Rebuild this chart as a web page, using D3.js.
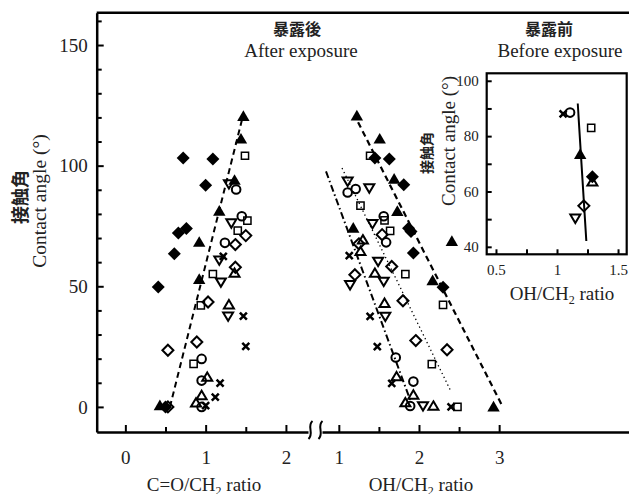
<!DOCTYPE html>
<html>
<head>
<meta charset="utf-8">
<script src="https://cdn.jsdelivr.net/npm/d3@7"></script>
<style>
    body { margin: 0; background: #fff; }
    svg { display: block; }
</style>
</head>
<body>
<svg id="chart" width="629" height="494"></svg>
<script>
// ---- data: [ratio, contact angle] per marker type ----
// after exposure, C=O/CH2 ratio
const fdiaCO = [[0.72, 103.2], [1.09, 102.8], [1.0, 91.9], [0.66, 72.1], [0.76, 73.9], [0.61, 63.5], [0.41, 49.7], [0.5, 0]];
const ftriCO = [[1.47, 120.4], [1.44, 111], [1.36, 93.9], [1.17, 81.1], [0.92, 68.2], [0.92, 52.8], [0.43, 0.5]];
const osqCO = [[1.49, 104.1], [1.52, 77.2], [1.4, 73.1], [1.09, 55.1], [0.94, 42.1], [0.85, 17.8]];
const ocirCO = [[1.38, 90.1], [1.45, 79], [1.24, 68], [0.95, 19.9], [0.95, 10.9], [0.95, 0]];
const otdCO = [[1.29, 92.4], [1.32, 76.2], [1.17, 60.8], [1.19, 51.7], [1.28, 37.6]];
const otuCO = [[1.36, 55.5], [1.29, 42.4], [1.02, 12.4], [0.95, 4.8], [0.88, 1.7]];
const odiaCO = [[1.5, 71], [1.37, 67.3], [1.37, 57.9], [1.03, 43.5], [0.89, 26.9], [0.53, 23.5], [0.53, 0]];
const crossCO = [[1.22, 62.4], [1.47, 37.6], [1.5, 25.1], [1.18, 9.9], [1.12, 4.1], [1.0, 0.5]];

// after exposure, OH/CH2 ratio
const fdiaOH = [[1.45, 103.2], [1.63, 102.8], [1.81, 92.1], [1.87, 74.1], [1.9, 72.7], [1.93, 63.8], [2.3, 49.6]];
const ftriOH = [[1.225, 120.6], [1.51, 111], [1.69, 94.4], [1.73, 81], [1.18, 74.1], [2.41, 68.6], [2.17, 52.3], [2.93, 0]];
const osqOH = [[1.39, 104.1], [1.27, 83.4], [1.57, 77.3], [1.64, 73], [1.83, 55], [2.3, 42.3], [2.16, 17.7], [2.48, 0]];
const ocirOH = [[1.21, 90.3], [1.11, 88.9], [1.56, 79], [1.59, 68.2], [1.71, 20.5], [1.93, 10.5], [1.89, 0.4]];
const otdOH = [[1.11, 93.5], [1.38, 90.7], [1.42, 75.9], [1.49, 60.3], [1.56, 52], [1.14, 50.6], [1.58, 37.5], [2.05, 0.4]];
const otuOH = [[1.3, 69.3], [1.27, 64.5], [1.45, 55.5], [1.57, 43], [1.72, 12.6], [1.93, 5], [1.83, 1.8], [2.18, 0.4]];
const odiaOH = [[1.54, 71.4], [1.25, 67.6], [1.66, 58.2], [1.2, 54.8], [1.8, 44], [1.96, 27.5], [2.35, 23.7]];
const crossOH = [[1.13, 62.7], [1.39, 37.5], [1.48, 25], [1.66, 9.8], [2.4, 0]];

// before exposure, OH/CH2 ratio (inset)
const fdiaBefore = [[1.29, 65.3]];
const ftriBefore = [[1.19, 73.4]];
const osqBefore = [[1.28, 83]];
const ocirBefore = [[1.107, 88.5]];
const otdBefore = [[1.15, 50.3]];
const otuBefore = [[1.29, 63.5]];
const odiaBefore = [[1.22, 54.8]];
const crossBefore = [[1.05, 88]];

// fitted trend lines (end points)
const trendCO = [[0.555, 0], [1.46, 120]];
const trendOHupper = [[1.24, 118], [3.03, 1]];
const trendOHdotted = [[1.04, 99], [2.39, 7]];
const trendOHlower = [[0.84, 97.6], [1.9, 2]];
const trendBefore = [[1.17, 91.8], [1.24, 42.1]];

const yTicks = [0, 50, 100, 150];
const xTicksCO = [0, 1, 2];
const xTicksOH = [1, 2, 3];
const yTicksInset = [40, 60, 80, 100];
const xTicksInset = [0.5, 1, 1.5];

// ---- setup ----
const svg = d3.select("#chart");
const serif = "'Liberation Serif', 'Times New Roman', serif";
const cjk = "'Noto Sans CJK JP', 'Noto Sans CJK SC', sans-serif";
const textColor = "#222";

const y = d3.scaleLinear().domain([-10.4, 163.4]).range([432, 12.7]);
const xCO = d3.scaleLinear().domain([-0.357, 2.275]).range([96.7, 308]);
const xOH = d3.scaleLinear().domain([0.79, 4.62]).range([322, 629]);

const xIn = d3.scaleLinear().domain([0.424, 1.571]).range([486.7, 626.7]);
const yIn = d3.scaleLinear().domain([37.3, 102.7]).range([254.3, 73.3]);

const circ = "M4.3,0A4.3,4.3 0 1,1 -4.3,0A4.3,4.3 0 1,1 4.3,0Z";
const shapes = {
    fdia: { d: "M0,-6.5L6.5,0L0,6.5L-6.5,0Z", fill: "#000", sw: 0 },
    ftri: { d: "M0,-6.2L6.2,4.5L-6.2,4.5Z", fill: "#000", sw: 0 },
    osq: { d: "M-3.6,-3.6h7.2v7.2h-7.2Z", fill: "none", sw: 1.5 },
    ocir: { d: circ, fill: "none", sw: 2 },
    otd: { d: "M-5,-3.8L5,-3.8L0,4.6Z", fill: "none", sw: 2 },
    otu: { d: "M0,-4.6L5,3.8L-5,3.8Z", fill: "none", sw: 2 },
    odia: { d: "M0,-5.5L5.5,0L0,5.5L-5.5,0Z", fill: "none", sw: 2 },
    cross: { d: "M-3.5,-3.5L3.5,3.5M-3.5,3.5L3.5,-3.5", fill: "none", sw: 2.5 }
};

const series = [
    { shape: "odia", co: odiaCO, oh: odiaOH, before: odiaBefore },
    { shape: "otu", co: otuCO, oh: otuOH, before: otuBefore },
    { shape: "otd", co: otdCO, oh: otdOH, before: otdBefore },
    { shape: "ocir", co: ocirCO, oh: ocirOH, before: ocirBefore },
    { shape: "osq", co: osqCO, oh: osqOH, before: osqBefore },
    { shape: "cross", co: crossCO, oh: crossOH, before: crossBefore },
    { shape: "fdia", co: fdiaCO, oh: fdiaOH, before: fdiaBefore },
    { shape: "ftri", co: ftriCO, oh: ftriOH, before: ftriBefore }
];

const styleTicks = (g, fontSize) => {
    g.select(".domain").attr("stroke", "#000").attr("stroke-width", 2.5);
    g.selectAll(".tick line").attr("stroke", "#000").attr("stroke-width", 2);
    g.selectAll(".tick text")
        .attr("font-family", serif)
        .attr("font-size", fontSize)
        .attr("fill", textColor);
};

// ---- main frame: top line ----
svg.append("line")
    .attr("x1", 96.7).attr("x2", 629)
    .attr("y1", 12.7).attr("y2", 12.7)
    .attr("stroke", "#000").attr("stroke-width", 2.5);

// y axis
const yAxisG = svg.append("g")
    .attr("transform", "translate(96.7,0)")
    .call(d3.axisLeft(y)
        .tickValues(d3.range(0, 161, 10))
        .tickSize(-5)
        .tickSizeOuter(0)
        .tickPadding(9)
        .tickFormat((d) => (yTicks.includes(d) ? d : "")));
styleTicks(yAxisG, 19);
yAxisG.selectAll(".tick line").filter((d) => yTicks.includes(d)).attr("x2", 7);

// x axes (broken)
const xAxisCO = svg.append("g")
    .attr("transform", "translate(0,432)")
    .call(d3.axisBottom(xCO)
        .tickValues(d3.range(0, 2.01, 0.5))
        .tickSize(-5)
        .tickSizeOuter(0)
        .tickPadding(19)
        .tickFormat((d) => (xTicksCO.includes(d) ? d : "")));
styleTicks(xAxisCO, 19);
xAxisCO.selectAll(".tick line").filter((d) => xTicksCO.includes(d)).attr("y2", -7);

const xAxisOH = svg.append("g")
    .attr("transform", "translate(0,432)")
    .call(d3.axisBottom(xOH)
        .tickValues(d3.range(1, 3.01, 0.5))
        .tickSize(-5)
        .tickSizeOuter(0)
        .tickPadding(19)
        .tickFormat((d) => (xTicksOH.includes(d) ? d : "")));
styleTicks(xAxisOH, 19);
xAxisOH.selectAll(".tick line").filter((d) => xTicksOH.includes(d)).attr("y2", -7);

// axis break marks
[310.5, 320.5].forEach((cx) => {
    svg.append("path")
        .attr("d", `M${cx + 2},421 C${cx - 4},426 ${cx + 4},433 ${cx - 2},439`)
        .attr("fill", "none")
        .attr("stroke", "#000")
        .attr("stroke-width", 2);
});

// ---- trend lines ----
const line = (xs, ys) => d3.line().x((d) => xs(d[0])).y((d) => ys(d[1]));

svg.append("path").attr("d", line(xCO, y)(trendCO))
    .attr("fill", "none").attr("stroke", "#000").attr("stroke-width", 2).attr("stroke-dasharray", "6,4");
svg.append("path").attr("d", line(xOH, y)(trendOHupper))
    .attr("fill", "none").attr("stroke", "#000").attr("stroke-width", 2.2).attr("stroke-dasharray", "6,4");
svg.append("path").attr("d", line(xOH, y)(trendOHdotted))
    .attr("fill", "none").attr("stroke", "#000").attr("stroke-width", 1.3).attr("stroke-dasharray", "1.3,3");
svg.append("path").attr("d", line(xOH, y)(trendOHlower))
    .attr("fill", "none").attr("stroke", "#000").attr("stroke-width", 2).attr("stroke-dasharray", "7,3,1.5,3");

// ---- markers ----
const drawPoints = (g, pts, xs, ys, key) => {
    const s = shapes[key];
    g.selectAll(null)
        .data(pts)
        .join("path")
        .attr("transform", (d) => `translate(${xs(d[0])},${ys(d[1])})`)
        .attr("d", s.d)
        .attr("fill", s.fill)
        .attr("stroke", "#000")
        .attr("stroke-width", s.sw)
        .attr("stroke-linejoin", "miter");
};

const mainPts = svg.append("g");
series.forEach((s) => {
    drawPoints(mainPts, s.co, xCO, y, s.shape);
    drawPoints(mainPts, s.oh, xOH, y, s.shape);
});

// ---- titles ----
const addText = (txt, x, yy, size, family, opts = {}) => {
    const t = svg.append("text")
        .attr("x", x).attr("y", yy)
        .attr("font-size", size)
        .attr("font-family", family)
        .attr("fill", textColor)
        .attr("text-anchor", opts.anchor || "middle")
        .attr("font-weight", opts.weight || "normal");
    if (opts.rotate) t.attr("transform", `rotate(-90,${x},${yy})`);
    t.text(txt);
    return t;
};

addText("暴露後", 297, 35, 16, cjk, { weight: "bold" });
addText("After exposure", 301, 57, 19, serif);
addText("暴露前", 549, 35, 16, cjk, { weight: "bold" });
addText("Before exposure", 560, 57, 19, serif);

addText("接触角", 27, 197, 18, cjk, { weight: "bold", rotate: true });
addText("Contact angle (°)", 46, 201, 19.5, serif, { rotate: true });

const co = addText("C=O/CH", 204, 491, 19, serif);
co.append("tspan").attr("font-size", 12).attr("dy", 4).text("2");
co.append("tspan").attr("dy", -4).text(" ratio");
const oh = addText("OH/CH", 421, 491, 19, serif);
oh.append("tspan").attr("font-size", 12).attr("dy", 4).text("2");
oh.append("tspan").attr("dy", -4).text(" ratio");

// ---- inset (before exposure) ----
const inset = svg.append("g");
inset.append("rect")
    .attr("x", 486.7).attr("y", 73.3)
    .attr("width", 140).attr("height", 181)
    .attr("fill", "#fff").attr("stroke", "#000").attr("stroke-width", 2.2);

const yInG = inset.append("g")
    .attr("transform", "translate(486.7,0)")
    .call(d3.axisLeft(yIn)
        .tickValues(d3.range(40, 101, 10))
        .tickSize(-5)
        .tickSizeOuter(0)
        .tickPadding(8)
        .tickFormat((d) => (yTicksInset.includes(d) ? d : "")));
styleTicks(yInG, 15);
yInG.select(".domain").remove();

const xInG = inset.append("g")
    .attr("transform", "translate(0,254.3)")
    .call(d3.axisBottom(xIn)
        .tickValues(d3.range(0.5, 1.51, 0.25))
        .tickSize(-5)
        .tickSizeOuter(0)
        .tickPadding(10)
        .tickFormat((d) => (xTicksInset.includes(d) ? d : "")));
styleTicks(xInG, 15);
xInG.select(".domain").remove();

inset.append("path").attr("d", line(xIn, yIn)(trendBefore))
    .attr("fill", "none").attr("stroke", "#000").attr("stroke-width", 2);

series.forEach((s) => drawPoints(inset, s.before, xIn, yIn, s.shape));

addText("接触角", 432, 153, 14, cjk, { weight: "bold", rotate: true });
addText("Contact angle (°)", 455, 141, 19, serif, { rotate: true });
const ohIn = addText("OH/CH", 562, 300, 19, serif);
ohIn.append("tspan").attr("font-size", 12).attr("dy", 4).text("2");
ohIn.append("tspan").attr("dy", -4).text(" ratio");
</script>
</body>
</html>
